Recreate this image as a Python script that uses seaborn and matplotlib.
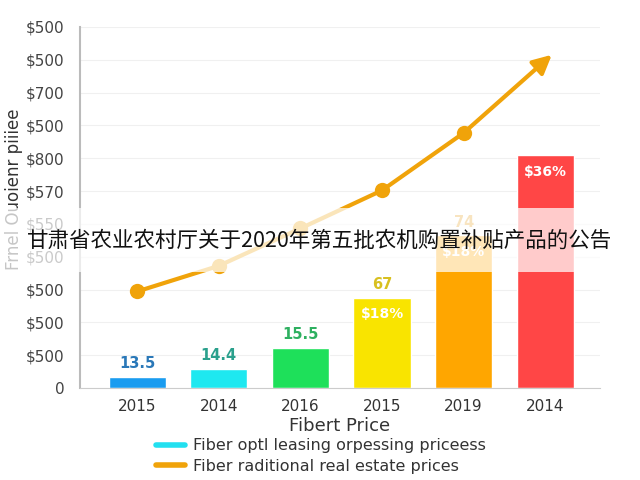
import numpy as np
import pandas as pd
import seaborn as sns
import matplotlib
matplotlib.use('Agg')
from matplotlib import pyplot as plt
from matplotlib.lines import Line2D
from matplotlib.patches import Rectangle

# values, in y-tick units (one tick = one unit)
years = ['2015', '2014', '2016', '2015', '2019', '2014']
bar_values = [0.34, 0.58, 1.22, 2.75, 4.65, 7.1]
bar_colors = ['#1a9cf0', '#1ee8f0', '#1ee05a', '#f9e400', '#ffa600', '#ff4646']
top_labels = ['13.5', '14.4', '15.5', '67', '74', '']
top_label_colors = ['#2a78b8', '#2aa08c', '#2eb060', '#d8c020', '#e8a020', '#ffffff']
inside_labels = ['', '', '', '$18%', '$18%', '$36%']
line_values = [2.94, 3.72, 4.86, 6.02, 7.77]
arrow_tip = (5.08, 10.15)
ytick_labels = ['0', '$500', '$500', '$500', '$500', '$550',
                '$570', '$800', '$500', '$700', '$500', '$500']
legend_labels = ['Fiber optl leasing orpessing priceess',
                 'Fiber raditional real estate prices']
title = '甘肃省农业农村厅关于2020年第五批农机购置补贴产品的公告'

sns.set_style('whitegrid', {'grid.color': '#f0f0f0'})
plt.rcParams['font.family'] = ['DejaVu Sans']

df = pd.DataFrame({'pos': range(len(years)), 'value': bar_values})
line_df = pd.DataFrame({'pos': range(len(line_values)), 'value': line_values})

fig = plt.figure(figsize=(6.4, 4.8), dpi=100)
ax = fig.add_axes([0.125, 0.1917, 0.8125, 0.7523])

sns.barplot(data=df, x='pos', y='value', hue='pos', palette=bar_colors,
            width=0.7, saturation=1, legend=False, ax=ax)

line_color = '#f0a30a'
sns.lineplot(data=line_df, x='pos', y='value', color=line_color, lw=3,
             marker='o', markersize=11, markeredgewidth=0, ax=ax, zorder=5)
ax.annotate('', xy=arrow_tip, xytext=(line_df.pos.iloc[-1], line_values[-1]),
            arrowprops=dict(arrowstyle='-|>', color=line_color, lw=3,
                            mutation_scale=28, shrinkA=0, shrinkB=0), zorder=5)

for i, v in enumerate(bar_values):
    if top_labels[i]:
        ax.annotate(top_labels[i], (i, v), xytext=(0, 4), textcoords='offset points',
                    ha='center', va='bottom', fontsize=10.5, fontweight='bold',
                    color=top_label_colors[i])
    if inside_labels[i]:
        ax.annotate(inside_labels[i], (i, v), xytext=(0, -12), textcoords='offset points',
                    ha='center', va='center', fontsize=10, fontweight='bold',
                    color='white')

ax.set_xlim(-0.7, 5.67)
ax.set_ylim(0, 11)
ax.set_yticks(range(len(ytick_labels)))
ax.set_yticklabels(ytick_labels)
ax.set_xticks(range(len(years)))
ax.set_xticklabels(years)
ax.grid(axis='x', visible=False)
ax.tick_params(axis='y', length=0, pad=11, labelsize=11, labelcolor='#444444')
ax.tick_params(axis='x', length=0, pad=8, labelsize=11, labelcolor='#333333')
ax.set_xlabel('Fibert Price', fontsize=13, color='#333333', labelpad=2)
ax.set_ylabel('Frnel Ouoienr piiiee', fontsize=12, color='#333333', labelpad=4)
ax.yaxis.set_label_coords(-0.11, 0.55)
for side in ['top', 'right']:
    ax.spines[side].set_visible(False)
ax.spines['left'].set_color('#bbbbbb')
ax.spines['left'].set_linewidth(1.5)
ax.spines['bottom'].set_color('#cccccc')

handles = [Line2D([], [], color='#22e0f0', lw=4),
           Line2D([], [], color='#f0a30a', lw=4)]
fig.legend(handles, legend_labels, loc='lower left', bbox_to_anchor=(0.222, -0.017),
           frameon=False, fontsize=11.5, handlelength=1.8, labelspacing=0.35,
           handletextpad=0.5, labelcolor='#333333')

# watermark band with the notice title
fig.patches.append(Rectangle((0, 1 - 272 / 480), 1, 64 / 480, transform=fig.transFigure,
                             facecolor='white', alpha=0.72, edgecolor='none', zorder=10))
fig.text(0.5, 1 - 241 / 480, title, fontsize=15.5, ha='center', va='center',
         color='#111111', family=['Noto Sans CJK SC', 'DejaVu Sans'], zorder=11)

fig.savefig('out.png', dpi=100)
